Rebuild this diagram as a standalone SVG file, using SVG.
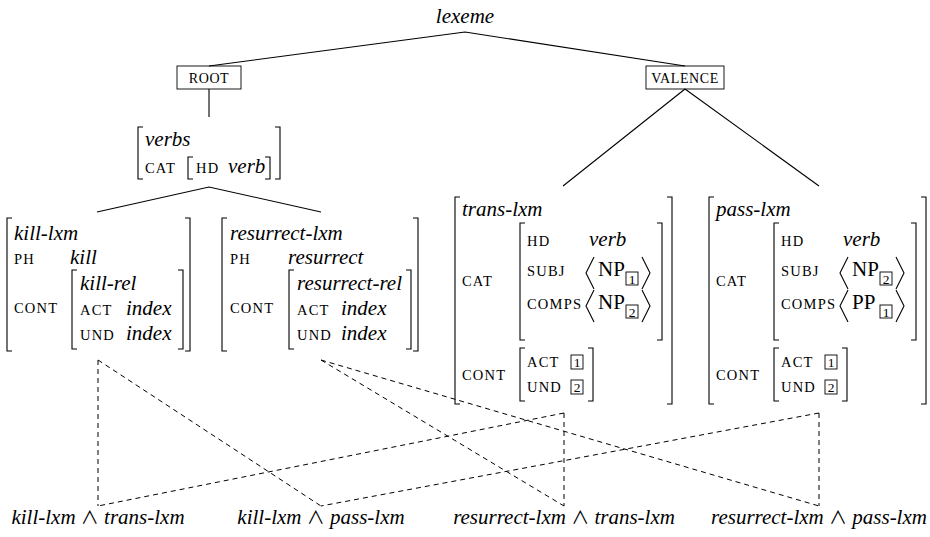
<svg xmlns="http://www.w3.org/2000/svg" width="930" height="537" viewBox="0 0 930 537">
<style>
text{font-family:'Liberation Serif',serif;fill:#000}
.it{font-style:italic;font-size:21px}
.rm{font-size:21px}
.sc{font-size:14.5px;letter-spacing:1.2px}
.bx{font-size:14px;letter-spacing:0.6px}
.n{font-size:13.5px}
.op{font-style:normal;font-size:18px;font-family:'Noto Sans CJK JP',sans-serif}
.br{fill:none;stroke:#000;stroke-width:1.1}
.ln{fill:none;stroke:#000;stroke-width:1.1}
.ds{fill:none;stroke:#000;stroke-width:1;stroke-dasharray:5 4}
.box{fill:none;stroke:#000;stroke-width:0.9}
</style>
<rect width="930" height="537" fill="#fff"/>
<g id="connectors">
<path class="ln" d="M465,32 L209,66 M465,32 L685,66 M209,89 V117 M685,89 L563,186 M685,89 L819,186 M97,212 L209,187 L321,212"/>
<path class="ds" d="M98,360 L98,506 M98,360 L321,506 M321,360 L564,506 M321,360 L819,506 M564,413 L98,506 M564,413 L564,506 M819,413 L321,506 M819,413 L819,506"/>
</g>
<g id="lexeme"><text class="it" x="465" y="23" text-anchor="middle">lexeme</text></g>
<g id="root"><rect class="box" x="177" y="66" width="64" height="23"/><text class="bx" x="209" y="83" text-anchor="middle">ROOT</text></g>
<g id="valence"><rect class="box" x="646" y="66" width="78" height="23"/><text class="bx" x="685" y="83" text-anchor="middle">VALENCE</text></g>
<g id="verbs">
<path class="br" d="M143,127 H138 V179 H143 M275,127 H280 V179 H275 M193,157 H188 V179 H193 M265,157 H270 V179 H265"/>
<text class="it" x="145" y="146">verbs</text>
<text class="sc" x="145" y="173">CAT</text>
<text class="sc" x="196" y="173">HD</text>
<text class="it" x="228" y="173">verb</text>
</g>
<g id="kill-lxm">
<path class="br" d="M12,218 H7 V351 H12 M185,218 H190 V351 H185 M77,270 H72 V349 H77 M178,270 H183 V349 H178"/>
<text class="it" x="14" y="240">kill-lxm</text>
<text class="sc" x="14" y="264">PH</text>
<text class="it" x="70" y="264">kill</text>
<text class="it" x="80" y="290">kill-rel</text>
<text class="sc" x="14" y="313">CONT</text>
<text class="sc" x="80" y="315">ACT</text>
<text class="it" x="126" y="315">index</text>
<text class="sc" x="80" y="340">UND</text>
<text class="it" x="126" y="340">index</text>
</g>
<g id="resurrect-lxm">
<path class="br" d="M227,218 H222 V351 H227 M413,218 H418 V351 H413 M294,270 H289 V349 H294 M406,270 H411 V349 H406"/>
<text class="it" x="230" y="240">resurrect-lxm</text>
<text class="sc" x="230" y="264">PH</text>
<text class="it" x="288" y="264">resurrect</text>
<text class="it" x="297" y="290">resurrect-rel</text>
<text class="sc" x="230" y="313">CONT</text>
<text class="sc" x="297" y="315">ACT</text>
<text class="it" x="341" y="315">index</text>
<text class="sc" x="297" y="340">UND</text>
<text class="it" x="341" y="340">index</text>
</g>
<g id="trans-lxm">
<path class="br" d="M460,197 H455 V404 H460 M667,197 H672 V404 H667 M525,223 H520 V340 H525 M657,223 H662 V340 H657 M525,348 H520 V401 H525 M588,348 H593 V401 H588"/>
<path class="ln" d="M594,257 L586,273 L594,289 M642,257 L650,273 L642,289 M594,290 L586,306 L594,322 M642,290 L650,306 L642,322"/>
<text class="it" x="462" y="216">trans-lxm</text>
<text class="sc" x="462" y="286">CAT</text>
<text class="sc" x="527" y="246">HD</text>
<text class="it" x="589" y="246">verb</text>
<text class="sc" x="527" y="276">SUBJ</text>
<text class="rm" x="598" y="276">NP</text>
<rect class="box" x="626" y="272" width="12" height="13"/><text class="n" x="632" y="283.5" text-anchor="middle">1</text>
<text class="sc" x="527" y="309">COMPS</text>
<text class="rm" x="598" y="309">NP</text>
<rect class="box" x="626" y="305" width="12" height="13"/><text class="n" x="632" y="316.5" text-anchor="middle">2</text>
<text class="sc" x="462" y="380">CONT</text>
<text class="sc" x="527" y="367">ACT</text>
<rect class="box" x="571" y="355" width="12" height="14"/><text class="n" x="577" y="367" text-anchor="middle">1</text>
<text class="sc" x="527" y="392">UND</text>
<rect class="box" x="571" y="380" width="12" height="14"/><text class="n" x="577" y="392" text-anchor="middle">2</text>
</g>
<g id="pass-lxm">
<path class="br" d="M714,197 H709 V404 H714 M921,197 H926 V404 H921 M779,223 H774 V340 H779 M911,223 H916 V340 H911 M779,348 H774 V401 H779 M842,348 H847 V401 H842"/>
<path class="ln" d="M848,257 L840,273 L848,289 M896,257 L904,273 L896,289 M848,290 L840,306 L848,322 M896,290 L904,306 L896,322"/>
<text class="it" x="716" y="216">pass-lxm</text>
<text class="sc" x="716" y="286">CAT</text>
<text class="sc" x="781" y="246">HD</text>
<text class="it" x="843" y="246">verb</text>
<text class="sc" x="781" y="276">SUBJ</text>
<text class="rm" x="852" y="276">NP</text>
<rect class="box" x="880" y="272" width="12" height="13"/><text class="n" x="886" y="283.5" text-anchor="middle">2</text>
<text class="sc" x="781" y="309">COMPS</text>
<text class="rm" x="852" y="309">PP</text>
<rect class="box" x="880" y="305" width="12" height="13"/><text class="n" x="886" y="316.5" text-anchor="middle">1</text>
<text class="sc" x="716" y="380">CONT</text>
<text class="sc" x="781" y="367">ACT</text>
<rect class="box" x="825" y="355" width="12" height="14"/><text class="n" x="831" y="367" text-anchor="middle">1</text>
<text class="sc" x="781" y="392">UND</text>
<rect class="box" x="825" y="380" width="12" height="14"/><text class="n" x="831" y="392" text-anchor="middle">2</text>
</g>
<g id="kill-trans"><text class="it" x="98" y="524" text-anchor="middle">kill-lxm <tspan class="op">∧</tspan> trans-lxm</text></g>
<g id="kill-pass"><text class="it" x="321" y="524" text-anchor="middle">kill-lxm <tspan class="op">∧</tspan> pass-lxm</text></g>
<g id="resurrect-trans"><text class="it" x="564" y="524" text-anchor="middle">resurrect-lxm <tspan class="op">∧</tspan> trans-lxm</text></g>
<g id="resurrect-pass"><text class="it" x="819" y="524" text-anchor="middle">resurrect-lxm <tspan class="op">∧</tspan> pass-lxm</text></g>
</svg>
